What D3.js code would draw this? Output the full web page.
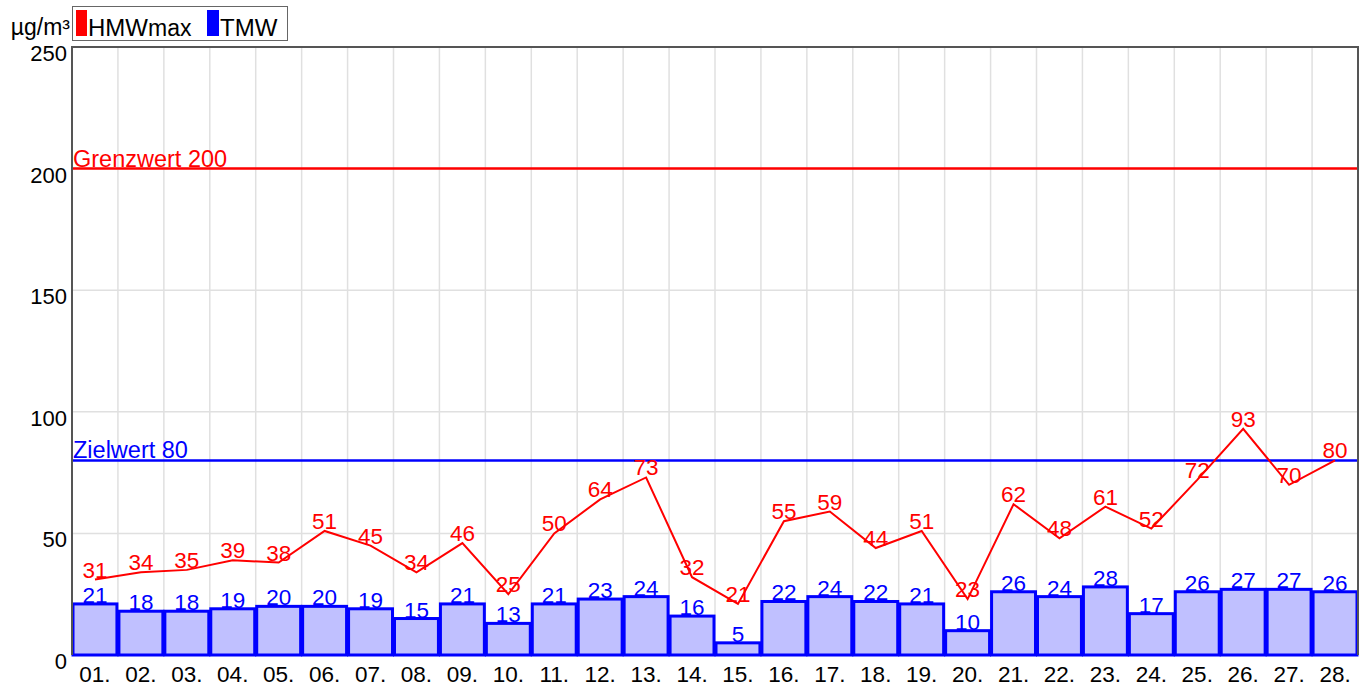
<!DOCTYPE html>
<meta charset="utf-8">
<style>
body { margin: 0; background: #fff; font-family: "Liberation Sans", Arial, sans-serif; }
text { font-family: "Liberation Sans", Arial, sans-serif; }
</style>
<body>
<svg width="1366" height="685"></svg>
<script src="https://d3js.org/d3.v7.min.js"></script>
<script>
// days of the month
var days = ["01.","02.","03.","04.","05.","06.","07.","08.","09.","10.","11.","12.","13.","14.",
            "15.","16.","17.","18.","19.","20.","21.","22.","23.","24.","25.","26.","27.","28."];
// HMWmax (red line)
var hmwMax = [31,34,35,39,38,51,45,34,46,25,50,64,73,32,21,55,59,44,51,23,62,48,61,52,72,93,70,80];
// TMW (blue bars)
var tmw = [21,18,18,19,20,20,19,15,21,13,21,23,24,16,5,22,24,22,21,10,26,24,28,17,26,27,27,26];
var yTicks = [0, 50, 100, 150, 200, 250];
var limits = [{label: "Grenzwert 200", value: 200, color: "#ff0000"},
              {label: "Zielwert 80", value: 80, color: "#0000ff"}];

var svg = d3.select("svg"),
    margin = {top: 47, right: 8, bottom: 30, left: 72},
    width = +svg.attr("width"),
    height = +svg.attr("height"),
    w = width - margin.left - margin.right,
    h = height - margin.top - margin.bottom;

var x = d3.scaleBand().domain(days).range([0, w]).padding(0);
var y = d3.scaleLinear().domain([0, 250]).range([h, 0]);

var g = svg.append("g")
    .attr("transform", "translate(" + margin.left + "," + margin.top + ")");

// grid
g.selectAll(".vgrid")
    .data(days.slice(1))
    .enter().append("line")
    .attr("x1", function (d) { return x(d); })
    .attr("x2", function (d) { return x(d); })
    .attr("y1", 0).attr("y2", h)
    .attr("stroke", "#e0e0e0").attr("stroke-width", 1.5);
g.selectAll(".hgrid")
    .data(yTicks.slice(1, -1))
    .enter().append("line")
    .attr("x1", 0).attr("x2", w)
    .attr("y1", function (d) { return y(d); })
    .attr("y2", function (d) { return y(d); })
    .attr("stroke", "#e0e0e0").attr("stroke-width", 1.5);

// bars
g.selectAll(".bar")
    .data(tmw)
    .enter().append("rect")
    .attr("x", function (d, i) { return x(days[i]) + 1; })
    .attr("width", x.bandwidth() - 2)
    .attr("y", function (d) { return y(d); })
    .attr("height", function (d) { return h - y(d); })
    .attr("fill", "#c0c0ff")
    .attr("stroke", "#0000ff")
    .attr("stroke-width", 3);

g.selectAll(".barlabel")
    .data(tmw)
    .enter().append("text")
    .attr("x", function (d, i) { return x(days[i]) + x.bandwidth() / 2; })
    .attr("y", function (d) { return y(d) - 1; })
    .attr("text-anchor", "middle")
    .attr("font-size", 22.5)
    .attr("fill", "#0000ff")
    .text(function (d) { return d; });

// limit lines
limits.forEach(function (l) {
    g.append("line")
        .attr("x1", 0).attr("x2", w)
        .attr("y1", y(l.value)).attr("y2", y(l.value))
        .attr("stroke", l.color).attr("stroke-width", 2.5);
    g.append("text")
        .attr("x", 1).attr("y", y(l.value) - 2)
        .attr("font-size", 23.5)
        .attr("fill", l.color)
        .text(l.label);
});

// HMWmax line
var line = d3.line()
    .x(function (d, i) { return x(days[i]) + x.bandwidth() / 2; })
    .y(function (d) { return y(d); });
g.append("path")
    .datum(hmwMax)
    .attr("d", line)
    .attr("fill", "none")
    .attr("stroke", "#ff0000")
    .attr("stroke-width", 2);

g.selectAll(".linelabel")
    .data(hmwMax)
    .enter().append("text")
    .attr("x", function (d, i) { return x(days[i]) + x.bandwidth() / 2; })
    .attr("y", function (d) { return y(d) - 2; })
    .attr("text-anchor", "middle")
    .attr("font-size", 22.5)
    .attr("fill", "#ff0000")
    .text(function (d) { return d; });

// frame
g.append("path")
    .attr("d", "M0," + h + "V0H" + w + "V" + h)
    .attr("fill", "none")
    .attr("stroke", "#555")
    .attr("stroke-width", 2);

// y axis labels (hang below ticks)
g.selectAll(".ytick")
    .data(yTicks)
    .enter().append("text")
    .attr("x", -5)
    .attr("y", function (d) { return y(d) + 14; })
    .attr("text-anchor", "end")
    .attr("font-size", 22)
    .attr("fill", "#000")
    .text(function (d) { return d; });

// x axis labels
g.selectAll(".xtick")
    .data(days)
    .enter().append("text")
    .attr("x", function (d) { return x(d) + x.bandwidth() / 2; })
    .attr("y", h + 27)
    .attr("text-anchor", "middle")
    .attr("font-size", 22.5)
    .attr("fill", "#000")
    .text(function (d) { return d; });

// unit + legend
svg.append("text")
    .attr("x", 70).attr("y", 35)
    .attr("text-anchor", "end")
    .attr("font-size", 23)
    .text("µg/m³");
svg.append("rect")
    .attr("x", 72.5).attr("y", 6.5).attr("width", 215).attr("height", 34)
    .attr("fill", "#fff").attr("stroke", "#666").attr("stroke-width", 1);
svg.append("rect").attr("x", 76).attr("y", 10).attr("width", 11).attr("height", 26).attr("fill", "#ff0000");
var t1 = svg.append("text").attr("x", 88).attr("y", 36).attr("font-size", 24);
t1.append("tspan").text("HMW");
t1.append("tspan").attr("font-size", 23).text("max");
svg.append("rect").attr("x", 207).attr("y", 10).attr("width", 12).attr("height", 26).attr("fill", "#0000ff");
svg.append("text").attr("x", 220).attr("y", 36).attr("font-size", 24).text("TMW");
</script>
</body>
